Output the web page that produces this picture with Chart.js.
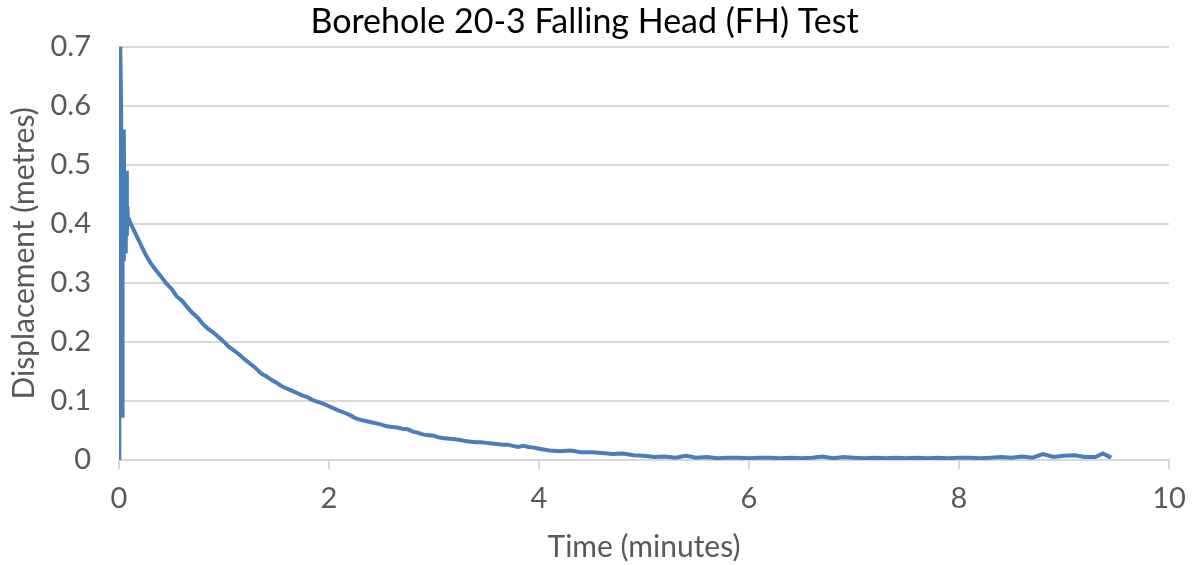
<!DOCTYPE html>
<html>
<head>
<meta charset="utf-8">
<title>Borehole 20-3 Falling Head (FH) Test</title>
<script src="https://cdn.jsdelivr.net/npm/chart.js@4/dist/chart.umd.min.js"></script>
<style>
  html, body { margin: 0; padding: 0; background: #fff; }
  #wrap { width: 1199px; height: 565px; }
</style>
</head>
<body>
<div id="wrap"><canvas id="fhChart" width="1199" height="565"></canvas></div>
<script>
// time since start of test (minutes) and water level displacement (metres)
const timeMin = [
  0, 0.003, 0.012, 0.020, 0.026, 0.030, 0.034, 0.040, 0.046, 0.052,
  0.058, 0.064, 0.070, 0.075, 0.080, 0.086, 0.095,
  0.10, 0.15, 0.20, 0.25, 0.30, 0.35, 0.40, 0.45, 0.50, 0.55,
  0.60, 0.65, 0.70, 0.75, 0.80, 0.85, 0.90, 0.95, 1.00, 1.05,
  1.10, 1.15, 1.20, 1.25, 1.30, 1.35, 1.40, 1.45, 1.50, 1.55,
  1.60, 1.65, 1.70, 1.75, 1.80, 1.85, 1.90, 1.95, 2.00, 2.05,
  2.10, 2.15, 2.20, 2.25, 2.30, 2.35, 2.40, 2.45, 2.50, 2.55,
  2.60, 2.65, 2.70, 2.75, 2.80, 2.85, 2.90, 2.95, 3.00, 3.05,
  3.10, 3.15, 3.20, 3.25, 3.30, 3.35, 3.40, 3.45, 3.50, 3.55,
  3.60, 3.65, 3.70, 3.75, 3.80, 3.85, 3.90, 3.95, 4.00,
  4.1, 4.2, 4.3, 4.4, 4.5, 4.6, 4.7, 4.8, 4.9, 5.0,
  5.1, 5.2, 5.3, 5.4, 5.5, 5.6, 5.7, 5.8, 5.9, 6.0,
  6.1, 6.2, 6.3, 6.4, 6.5, 6.6, 6.7, 6.8, 6.9, 7.0,
  7.1, 7.2, 7.3, 7.4, 7.5, 7.6, 7.7, 7.8, 7.9, 8.0,
  8.1, 8.2, 8.3, 8.4, 8.5, 8.6, 8.7, 8.8, 8.9, 9.0,
  9.1, 9.2, 9.3, 9.37, 9.45
];
const displacement = [
  0, 0.70, 0.70, 0.60, 0.60, 0.075, 0.56, 0.34, 0.56, 0.35,
  0.49, 0.35, 0.49, 0.38, 0.43, 0.40, 0.41,
  0.405, 0.386, 0.368, 0.349, 0.334, 0.322, 0.311, 0.299, 0.290, 0.277,
  0.270, 0.259, 0.249, 0.241, 0.230, 0.222, 0.216, 0.208, 0.200, 0.191,
  0.185, 0.178, 0.170, 0.163, 0.156, 0.147, 0.142, 0.136, 0.131, 0.125,
  0.121, 0.117, 0.113, 0.109, 0.106, 0.101, 0.098, 0.095, 0.091, 0.087,
  0.083, 0.080, 0.076, 0.071, 0.068, 0.066, 0.064, 0.062, 0.060, 0.057,
  0.056, 0.055, 0.053, 0.052, 0.048, 0.046, 0.043, 0.042, 0.041, 0.038,
  0.037, 0.036, 0.035, 0.034, 0.032, 0.031, 0.030, 0.030, 0.029, 0.028,
  0.027, 0.026, 0.026, 0.024, 0.022, 0.024, 0.022, 0.021, 0.019,
  0.016, 0.015, 0.016, 0.013, 0.013, 0.012, 0.010, 0.011, 0.008, 0.007,
  0.005, 0.006, 0.004, 0.007, 0.004, 0.005, 0.003, 0.004, 0.004, 0.003,
  0.004, 0.004, 0.003, 0.004, 0.003, 0.004, 0.006, 0.003, 0.005, 0.004,
  0.003, 0.004, 0.003, 0.004, 0.003, 0.004, 0.003, 0.004, 0.003, 0.004,
  0.004, 0.003, 0.004, 0.005, 0.004, 0.006, 0.004, 0.010, 0.005, 0.007,
  0.008, 0.005, 0.005, 0.011, 0.004
];
const xTicks = [0, 2, 4, 6, 8, 10];
const yTicks = [0, 0.1, 0.2, 0.3, 0.4, 0.5, 0.6, 0.7];

const points = timeMin.map((t, i) => ({ x: t, y: displacement[i] }));
const FONT = "Lato, 'Open Sans', sans-serif";
const GREY = '#595959';
const LINE = '#d9d9d9';

new Chart(document.getElementById('fhChart'), {
  type: 'scatter',
  data: {
    datasets: [{
      data: points,
      showLine: true,
      borderColor: '#4a7ebb',
      borderWidth: 4,
      pointRadius: 0,
      tension: 0
    }]
  },
  options: {
    responsive: false,
    animation: false,
    layout: { padding: { left: 0, right: 30, top: 0, bottom: 0 } },
    plugins: {
      legend: { display: false },
      tooltip: { enabled: false },
      title: {
        display: true,
        text: 'Borehole 20-3 Falling Head (FH) Test',
        color: '#000',
        font: { family: FONT, size: 34, weight: 'normal' },
        lineHeight: 1.1,
        padding: { top: 2, bottom: 4 }
      }
    },
    scales: {
      x: {
        type: 'linear',
        min: 0,
        max: 10,
        afterBuildTicks: s => { s.ticks = xTicks.map(v => ({ value: v })); },
        afterFit: s => { s.height = 105; },
        grid: { drawOnChartArea: false, drawTicks: true, tickLength: 9, color: LINE, lineWidth: 2 },
        border: { color: LINE, width: 2 },
        ticks: { color: GREY, font: { family: FONT, size: 29 }, padding: 12 },
        title: {
          display: true,
          text: 'Time (minutes)',
          color: GREY,
          font: { family: FONT, size: 30 },
          padding: { top: 0, bottom: 0 }
        }
      },
      y: {
        type: 'linear',
        min: 0,
        max: 0.7,
        afterBuildTicks: s => { s.ticks = yTicks.map(v => ({ value: v })); },
        afterFit: s => { s.width = 119; },
        grid: { drawTicks: false, color: LINE, lineWidth: 2 },
        border: { display: false },
        ticks: { color: GREY, font: { family: FONT, size: 29 }, padding: 28 },
        title: {
          display: true,
          text: 'Displacement (metres)',
          color: GREY,
          font: { family: FONT, size: 30 },
          padding: { top: 6, bottom: 0 }
        }
      }
    }
  }
});
</script>
</body>
</html>
